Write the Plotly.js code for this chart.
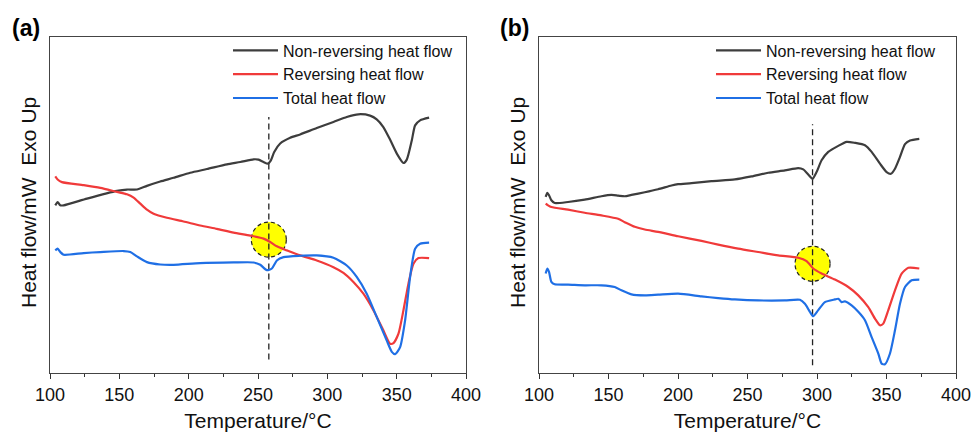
<!DOCTYPE html>
<html>
<head>
<meta charset="utf-8">
<script src="https://cdn.plot.ly/plotly-3.0.1.min.js"></script>
<style>html,body{margin:0;padding:0;background:#fff;}#chart{width:973px;height:432px;}</style>
</head>
<body>
<div id="chart"></div>
<script>
// ---- Panel (a) ----
const aNonRevT = [103.8,105.5,107.4,109.8,126.7,148.3,155.5,162.7,169.9,179.5,189.1,201.1,213.1,227.6,237.2,246.8,250.4,254.0,257.1,259.3,261.7,266.0,273.2,280.4,292.4,304.4,314.0,322.4,330.8,335.6,340.4,345.3,350.1,354.9,357.3,360.9,363.3,366.9,373.4];
const aNonRevV = [49.9,50.9,49.9,49.9,51.9,54.2,54.6,54.6,55.7,57.0,58.1,59.6,60.7,62.1,62.8,63.6,63.5,62.8,62.3,63.3,65.8,68.3,70.0,71.0,72.9,74.7,76.2,77.0,76.6,75.5,73.2,69.4,65.3,62.5,63.5,69.2,73.7,75.2,76.0];

const aRevT = [103.8,105.5,108.6,124.3,136.3,148.3,155.5,160.3,165.1,169.9,174.7,184.3,196.3,208.3,220.3,232.4,244.4,254.0,258.8,263.6,270.8,280.4,292.4,304.4,311.6,318.8,326.0,333.2,340.4,345.3,347.7,351.3,354.9,358.5,362.1,365.7,373.4];
const aRevV = [58.5,57.6,56.8,55.9,55.1,53.9,53.2,52.2,50.4,48.6,47.4,46.2,45.1,43.9,42.9,41.8,40.9,40.0,39.0,37.7,36.5,35.0,33.5,31.5,29.8,27.1,23.6,18.7,12.7,8.7,8.9,11.7,18.7,26.6,32.5,34.2,34.2];

const aTotT = [103.8,105.5,107.4,109.8,124.3,136.3,153.1,157.9,162.7,169.9,179.5,189.1,208.3,232.4,246.8,251.6,256.4,260.0,263.6,268.4,280.4,292.4,304.4,314.0,321.2,328.4,335.6,342.8,346.5,348.9,352.5,356.1,359.7,363.3,366.9,373.4];
const aTotV = [36.5,37.0,36.0,35.2,35.7,36.0,36.3,36.0,34.7,33.0,32.3,32.2,32.7,32.9,32.9,32.2,30.6,31.1,33.5,34.5,34.9,35.0,34.3,32.0,28.6,23.6,16.7,9.7,6.3,5.6,7.7,15.7,28.6,37.0,38.5,38.8];

// ---- Panel (b) ----
const bNonRevT = [104.8,106.0,107.2,108.9,111.3,120.9,132.9,144.9,152.1,156.9,161.7,166.5,176.1,185.7,195.3,200.1,209.7,224.1,240.9,252.9,264.9,276.9,286.5,290.1,293.7,296.8,299.7,303.3,308.1,315.3,321.3,327.3,334.5,339.3,345.3,350.1,353.2,356.1,359.7,363.3,366.9,373.6];
const bNonRevV = [52.4,53.6,52.9,51.4,50.6,50.9,51.6,52.6,53.0,52.8,52.6,53.0,53.8,54.7,55.8,56.2,56.5,57.1,57.6,58.5,59.6,60.3,61.0,60.6,59.1,57.8,59.8,63.3,65.8,67.6,68.8,68.5,67.8,65.8,62.3,59.8,59.3,60.8,64.3,68.1,69.2,69.7];

const bRevT = [104.8,106.5,108.9,120.9,132.9,144.9,156.9,161.7,168.9,176.1,185.7,200.1,216.9,228.9,243.3,257.7,272.1,286.5,292.5,297.3,303.3,312.9,322.5,329.7,336.9,341.7,345.3,347.7,351.3,356.1,360.9,365.7,373.6];
const bRevV = [50.4,49.9,49.4,48.6,47.7,46.9,45.9,44.9,43.5,42.7,42.0,40.7,39.3,38.2,37.0,36.0,35.0,34.3,33.3,31.1,29.6,27.8,25.6,23.1,19.6,16.2,14.2,14.7,18.7,24.6,29.6,31.3,31.1];

const bTotT = [104.8,106.0,107.2,108.9,111.3,120.9,132.9,144.9,154.5,159.3,166.5,176.1,185.7,200.1,216.9,228.9,240.9,257.7,276.9,287.7,291.3,294.9,297.3,300.9,305.7,312.9,315.3,317.7,320.1,324.9,329.7,334.5,339.3,344.1,346.5,348.9,352.5,356.1,359.7,363.3,368.1,373.6];
const bTotV = [29.6,31.1,30.1,27.1,26.4,26.3,26.1,26.1,25.6,24.6,23.4,23.1,23.3,23.6,22.8,22.3,21.9,21.6,21.6,21.8,20.6,18.2,16.9,18.7,21.1,21.9,22.1,21.1,21.3,20.1,18.2,15.7,10.7,5.8,2.8,2.6,5.8,12.7,20.6,25.6,27.6,27.8];

// Marked transition temperatures and crossing values
const aMarkT = 257.8, aMarkV = 39.7;
const bMarkT = 296.8, bMarkV = 32.5;
const aDashV = [4.0, 76.2];
const bDashV = [2.3, 74.0];

const seriesNames = ['Non-reversing heat flow', 'Reversing heat flow', 'Total heat flow'];
const xTickVals = [100,150,200,250,300,350,400];
const xMinorVals = [125,175,225,275,325,375];

const colors = ['#3d3d3d', '#f03a3a', '#1f6fe5'];
const FONT = 'Liberation Sans, Arial, Helvetica, sans-serif';

function mk(x, y, i, xa, ya, leg) {
  return {x: x, y: y, type: 'scatter', mode: 'lines', name: seriesNames[i],
    line: {color: colors[i], width: 2.2, shape: 'spline', smoothing: 0.6},
    xaxis: xa, yaxis: ya, legend: leg, showlegend: true};
}

const data = [
  mk(aNonRevT, aNonRevV, 0, 'x', 'y', 'legend'),
  mk(aRevT, aRevV, 1, 'x', 'y', 'legend'),
  mk(aTotT, aTotV, 2, 'x', 'y', 'legend'),
  mk(bNonRevT, bNonRevV, 0, 'x2', 'y2', 'legend2'),
  mk(bRevT, bRevV, 1, 'x2', 'y2', 'legend2'),
  mk(bTotT, bTotV, 2, 'x2', 'y2', 'legend2')
];

const yDom = [59/432, 395/432];
function xax(dom) {
  return {domain: dom, range: [100, 400], tickvals: xTickVals, ticktext: xTickVals.map(String),
    ticks: 'outside', ticklen: 5, tickwidth: 1, tickcolor: '#333',
    minor: {tickvals: xMinorVals, ticks: 'outside', ticklen: 3, tickcolor: '#333'},
    showline: true, linecolor: '#444', linewidth: 1, mirror: true,
    showgrid: false, zeroline: false, fixedrange: true,
    tickfont: {family: FONT, size: 18, color: '#111'},
    title: {text: 'Temperature/°C', font: {family: FONT, size: 21, color: '#111'}, standoff: 11}};
}
function yax(anchor) {
  return {domain: yDom, range: [0, 100], anchor: anchor, showticklabels: false, ticks: '',
    showline: true, linecolor: '#444', linewidth: 1, mirror: true,
    showgrid: false, zeroline: false, fixedrange: true};
}

function markShapes(xr, yr, T, V, dashV) {
  return [
    {type: 'circle', xref: xr, yref: yr, xsizemode: 'pixel', ysizemode: 'pixel',
     xanchor: T, yanchor: V, x0: -17.5, x1: 17.5, y0: -17.5, y1: 17.5,
     fillcolor: '#ffff00', line: {color: '#222', width: 1.2, dash: '4px,3px'}, layer: 'below'},
    {type: 'line', xref: xr, yref: yr, x0: T, x1: T, y0: dashV[0], y1: dashV[1],
     line: {color: '#222', width: 1.3, dash: '6px,4px'}, layer: 'below'}
  ];
}

const legFont = {family: FONT, size: 16, color: '#111'};
const yTitle = 'Heat flow/mW\u00a0\u00a0Exo Up';
const layout = {
  width: 973, height: 432,
  margin: {l: 0, r: 0, t: 0, b: 0},
  paper_bgcolor: '#fff', plot_bgcolor: 'rgba(0,0,0,0)',
  font: {family: FONT, color: '#111'},
  xaxis: xax([50/973, 466/973]),
  yaxis: yax('x'),
  xaxis2: Object.assign(xax([539/973, 956/973]), {anchor: 'y2'}),
  yaxis2: yax('x2'),
  legend: {x: 228/973, y: 1 - 33.5/432, xanchor: 'left', yanchor: 'top', xref: 'paper', yref: 'paper',
    bgcolor: 'rgba(0,0,0,0)', font: legFont, itemwidth: 45, tracegroupgap: 0},
  legend2: {x: 711/973, y: 1 - 33.5/432, xanchor: 'left', yanchor: 'top', xref: 'paper', yref: 'paper',
    bgcolor: 'rgba(0,0,0,0)', font: legFont, itemwidth: 45, tracegroupgap: 0},
  shapes: [].concat(markShapes('x', 'y', aMarkT, aMarkV, aDashV), markShapes('x2', 'y2', bMarkT, bMarkV, bDashV)),
  annotations: [
    {text: '<b>(a)</b>', x: 26/973, y: 1 - 28/432, xref: 'paper', yref: 'paper', showarrow: false,
     xanchor: 'center', yanchor: 'middle', font: {family: FONT, size: 23, color: '#000'}},
    {text: '<b>(b)</b>', x: 514/973, y: 1 - 28/432, xref: 'paper', yref: 'paper', showarrow: false,
     xanchor: 'center', yanchor: 'middle', font: {family: FONT, size: 23, color: '#000'}},
    {text: yTitle, textangle: -90, x: 28/973, y: 1 - 203/432, xref: 'paper', yref: 'paper', showarrow: false,
     xanchor: 'center', yanchor: 'middle', font: {family: FONT, size: 21, color: '#111'}},
    {text: yTitle, textangle: -90, x: 517/973, y: 1 - 203/432, xref: 'paper', yref: 'paper', showarrow: false,
     xanchor: 'center', yanchor: 'middle', font: {family: FONT, size: 21, color: '#111'}}
  ]
};

Plotly.newPlot('chart', data, layout, {displayModeBar: false, staticPlot: true});
</script>
</body>
</html>
